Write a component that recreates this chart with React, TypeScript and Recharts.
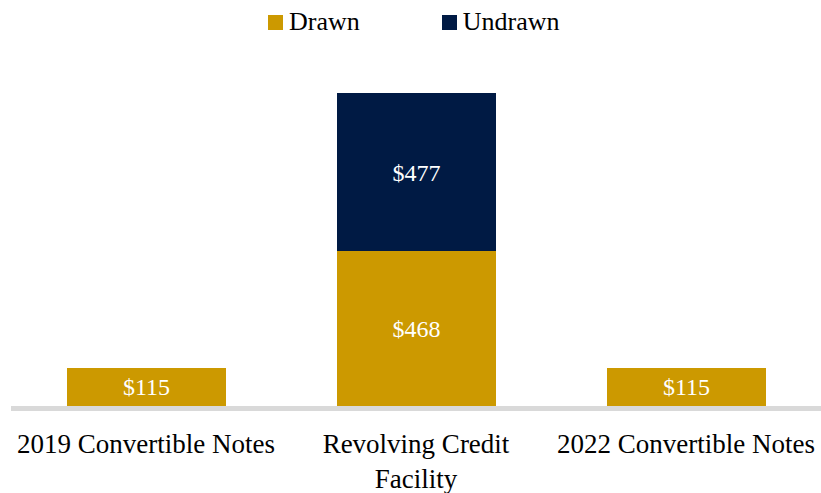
import { BarChart, Bar, XAxis, YAxis, Legend, LabelList } from 'recharts';

const categories = ['2019 Convertible Notes', 'Revolving Credit Facility', '2022 Convertible Notes'];
const drawn = [115, 468, 115];
const undrawn = [null, 477, null];

const data = categories.map((name, i) => ({ name, drawn: drawn[i], undrawn: undrawn[i] }));

const FONT = "'Liberation Serif', 'Times New Roman', serif";
const GOLD = '#CC9900';
const NAVY = '#001A44';

// split long labels into two lines
function wrap(label: string, max = 22): string[] {
  if (label.length <= max) return [label];
  const cut = label.lastIndexOf(' ');
  return [label.slice(0, cut), label.slice(cut + 1)];
}

function CategoryTick(props: any) {
  const { x, y, payload } = props;
  const lines = wrap(payload.value);
  return (
    <text x={x} y={y} textAnchor="middle" fontFamily={FONT} fontSize={27} fill="#000">
      {lines.map((l, i) => (
        <tspan key={i} x={x} dy={i === 0 ? 47 : 35}>{l}</tspan>
      ))}
    </text>
  );
}

function LegendRow(props: any) {
  const { payload } = props;
  return (
    <div style={{ display: 'flex', alignItems: 'center', paddingLeft: 268, fontFamily: FONT, fontSize: 26, color: '#000' }}>
      {payload.map((p: any, i: number) => (
        <div key={p.value} style={{ display: 'flex', alignItems: 'center', marginRight: i === 0 ? 82 : 0 }}>
          <span style={{ width: 15, height: 15, background: p.color, display: 'inline-block', marginRight: 6 }} />
          <span style={{ lineHeight: '30px' }}>{p.value}</span>
        </div>
      ))}
    </div>
  );
}

const money = (v: any) => (v == null ? '' : `$${v}`);

export default function App() {
  return (
    <div style={{ width: 821, height: 493 }}>
      <style>{`body{margin:0}`}</style>
      <BarChart
        width={821}
        height={493}
        data={data}
        margin={{ top: 93, right: 0, bottom: 0, left: 11 }}
        barSize={159}
      >
        <XAxis
          dataKey="name"
          interval={0}
          height={87}
          tickLine={false}
          tickSize={0}
          tickMargin={0}
          axisLine={{ stroke: '#D9D9D9', strokeWidth: 5, transform: 'translate(0 2.5)' }}
          tick={<CategoryTick />}
        />
        <YAxis hide domain={[0, 'dataMax']} />
        <Legend
          verticalAlign="middle"
          align="center"
          layout="horizontal"
          wrapperStyle={{ top: 7, left: 0, width: 821 }}
          content={<LegendRow />}
        />
        <Bar dataKey="drawn" name="Drawn" stackId="a" fill={GOLD} isAnimationActive={false}>
          <LabelList dataKey="drawn" position="center" fill="#fff" fontSize={24} fontFamily={FONT} formatter={money} />
        </Bar>
        <Bar dataKey="undrawn" name="Undrawn" stackId="a" fill={NAVY} isAnimationActive={false}>
          <LabelList dataKey="undrawn" position="center" fill="#fff" fontSize={24} fontFamily={FONT} formatter={money} />
        </Bar>
      </BarChart>
    </div>
  );
}
